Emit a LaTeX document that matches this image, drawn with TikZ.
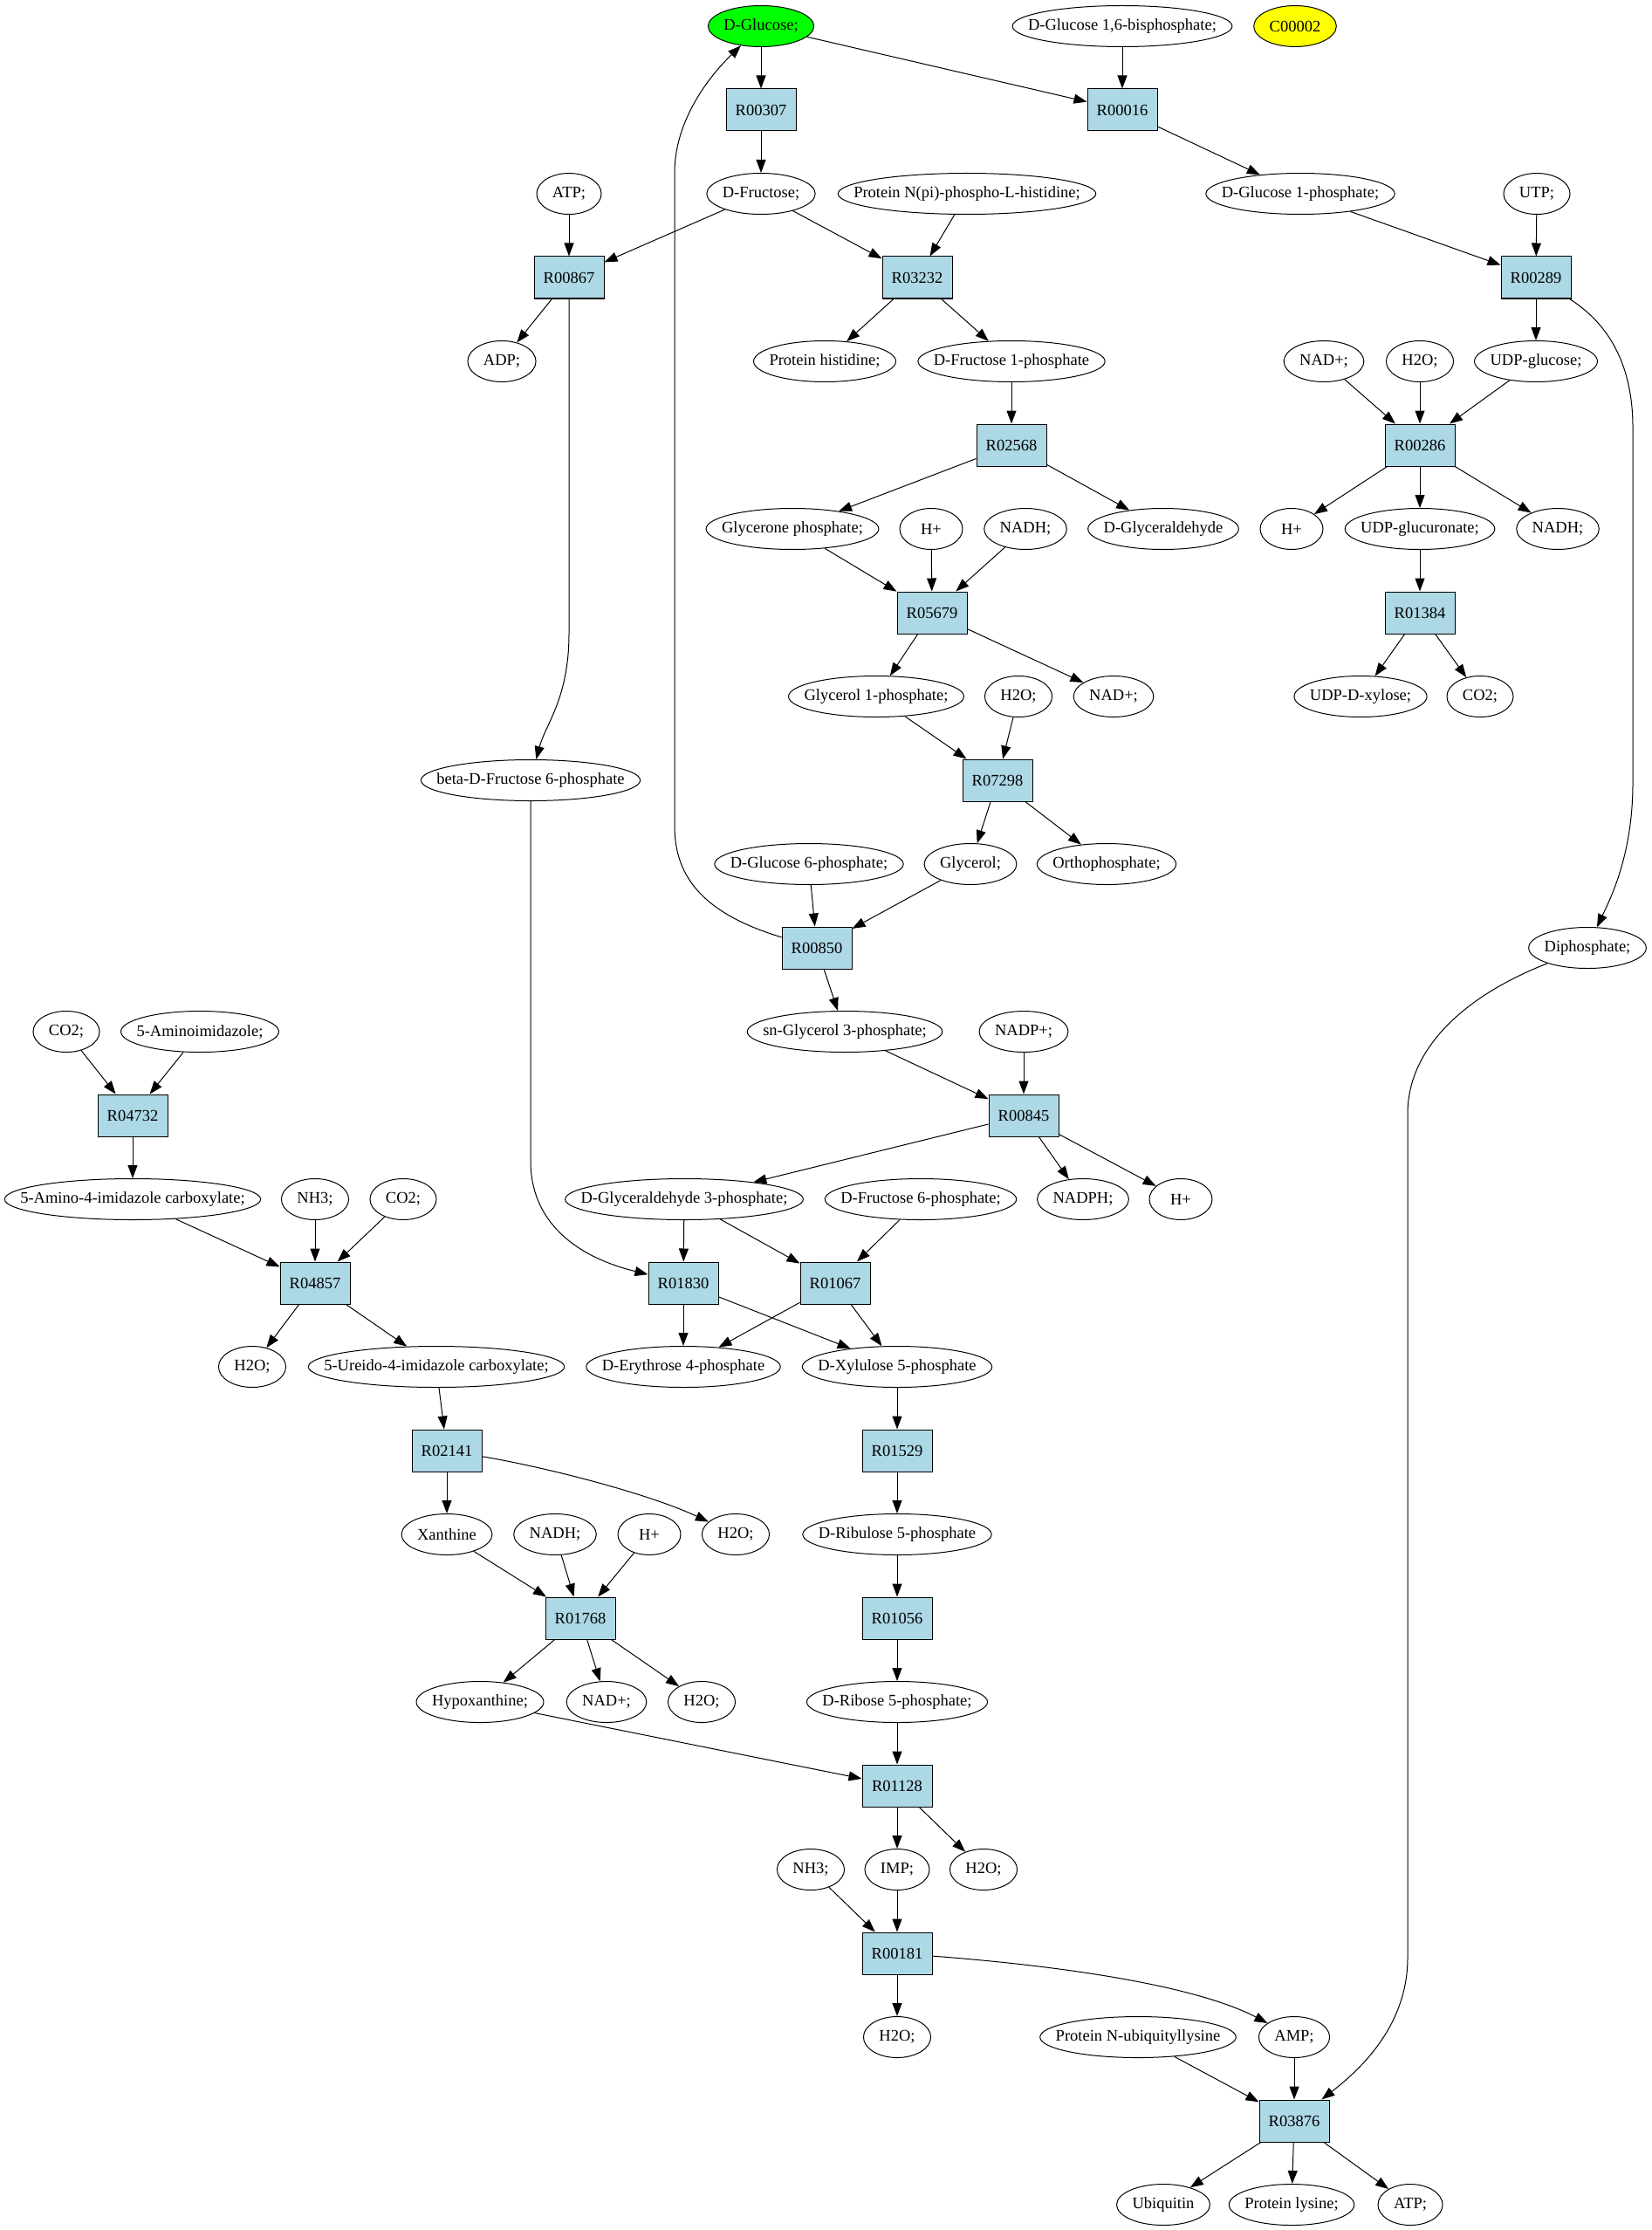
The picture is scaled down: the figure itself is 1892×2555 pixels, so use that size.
\documentclass[tikz,border=0pt]{standalone}
\usepackage{fontspec}
\setmainfont{Liberation Serif}
\usetikzlibrary{arrows.meta,shapes.geometric,calc}
\definecolor{lblue}{RGB}{173,216,230}
\definecolor{gfill}{RGB}{0,255,0}
\definecolor{yfill}{RGB}{255,255,0}
\newcommand\nodefnt{\fontsize{18.5}{22}\selectfont}
\newcommand\enode[4][]{%
  \node[inner sep=0pt,outer sep=0pt] (#2-m) at (#3) {\phantom{#4}};
  \path let \p1=($(#2-m.east)-(#2-m.west)$) in
    node[ell,minimum width={max(72pt,\x1+36pt)},#1] (#2) at (#3) {#4};}
\newcommand\rnode[2]{\node[rbox] (#1) at (#2) {#1};}
\begin{document}
\begin{tikzpicture}[x=1pt,y=-1pt,
  every node/.style={font=\nodefnt},
  ell/.style={ellipse,draw,line width=1pt,inner xsep=-400pt,inner ysep=-100pt,minimum height=47pt},
  rbox/.style={rectangle,draw,fill=lblue,line width=1pt,minimum width=80pt,minimum height=48pt,inner sep=0pt},
  e/.style={line width=1pt,-{Triangle[length=15pt,width=11pt]}}]
\useasboundingbox (0,0) rectangle (1892,2555);
% rank 0
\enode[fill=gfill]{glc}{872,30}{D-Glucose;}
\enode{gbp}{1286,30}{D-Glucose 1,6-bisphosphate;}
\enode[fill=yfill]{cpd}{1484,30}{C00002}
% rank 1
\rnode{R00307}{872,126}
\rnode{R00016}{1286,126}
% rank 2
\enode{atpa}{652,222}{ATP;}
\enode{fru}{872,222}{D-Fructose;}
\enode{pnph}{1108,222}{Protein N(pi)-phospho-L-histidine;}
\enode{gip}{1490,222}{D-Glucose 1-phosphate;}
\enode{utp}{1761,222}{UTP;}
% rank 3
\rnode{R00867}{652,318}
\rnode{R03232}{1051,318}
\rnode{R00289}{1760,318}
% rank 4
\enode{adp}{575,414}{ADP;}
\enode{phis}{945,414}{Protein histidine;}
\enode{fip}{1159,414}{D-Fructose 1-phosphate}
\enode{nadpa}{1517,414}{NAD+;}
\enode{wa}{1627,414}{H2O;}
\enode{udpg}{1760,414}{UDP-glucose;}
% rank 5
\rnode{R02568}{1159,510}
\rnode{R00286}{1627,510}
% rank 6
\enode{glyp}{908,606}{Glycerone phosphate;}
\enode{hpa}{1067,606}{H+}
\enode{nadha}{1175,606}{NADH;}
\enode{dgly}{1333,606}{D-Glyceraldehyde}
\enode{hpb}{1480,606}{H+}
\enode{udpgu}{1627,606}{UDP-glucuronate;}
\enode{nadhb}{1785,606}{NADH;}
% rank 7
\rnode{R05679}{1068,702}
\rnode{R01384}{1627,702}
% rank 8
\enode{glyop}{1004,798}{Glycerol 1-phosphate;}
\enode{wb}{1167,798}{H2O;}
\enode{nadpb}{1276,798}{NAD+;}
\enode{udpx}{1559,798}{UDP-D-xylose;}
\enode{coa}{1696,798}{CO2;}
% rank 9
\enode{bfsp}{608,894}{beta-D-Fructose 6-phosphate}
\rnode{R07298}{1143,894}
% rank 10
\enode{gsp}{927,990}{D-Glucose 6-phosphate;}
\enode{glyc}{1112,990}{Glycerol;}
\enode{orth}{1268,990}{Orthophosphate;}
% rank 11
\rnode{R00850}{936,1086}
\enode{diph}{1819,1086}{Diphosphate;}
% rank 12
\enode{cob}{76,1182}{CO2;}
\enode{aimid}{229,1182}{5-Aminoimidazole;}
\enode{sngp}{968,1182}{sn-Glycerol 3-phosphate;}
\enode{nadpp}{1173,1182}{NADP+;}
% rank 13
\rnode{R04732}{152,1278}
\rnode{R00845}{1173,1278}
% rank 14
\enode{aic}{152,1374}{5-Amino-4-imidazole carboxylate;}
\enode{nha}{361,1374}{NH3;}
\enode{coc}{462,1374}{CO2;}
\enode{gatp}{784,1374}{D-Glyceraldehyde 3-phosphate;}
\enode{fsp}{1055,1374}{D-Fructose 6-phosphate;}
\enode{nadph}{1241,1374}{NADPH;}
\enode{hpc}{1353,1374}{H+}
% rank 15
\rnode{R04857}{361,1470}
\rnode{R01830}{783,1470}
\rnode{R01067}{957,1470}
% rank 16
\enode{wc}{289,1566}{H2O;}
\enode{uic}{500,1566}{5-Ureido-4-imidazole carboxylate;}
\enode{efp}{783,1566}{D-Erythrose 4-phosphate}
\enode{xufp}{1028,1566}{D-Xylulose 5-phosphate}
% rank 17
\rnode{R02141}{512,1662}
\rnode{R01529}{1028,1662}
% rank 18
\enode{xan}{512,1758}{Xanthine}
\enode{nadhc}{636,1758}{NADH;}
\enode{hpd}{744,1758}{H+}
\enode{wd}{843,1758}{H2O;}
\enode{rufp}{1028,1758}{D-Ribulose 5-phosphate}
% rank 19
\rnode{R01768}{665,1854}
\rnode{R01056}{1028,1854}
% rank 20
\enode{hypx}{550,1950}{Hypoxanthine;}
\enode{nadpc}{695,1950}{NAD+;}
\enode{we}{804,1950}{H2O;}
\enode{rfp}{1028,1950}{D-Ribose 5-phosphate;}
% rank 21
\rnode{R01128}{1028,2046}
% rank 22
\enode{nhb}{929,2142}{NH3;}
\enode{imp}{1028,2142}{IMP;}
\enode{wf}{1127,2142}{H2O;}
% rank 23
\rnode{R00181}{1028,2238}
% rank 24
\enode{wg}{1028,2334}{H2O;}
\enode{pnub}{1304,2334}{Protein N-ubiquityllysine}
\enode{amp}{1483,2334}{AMP;}
% rank 25
\rnode{R03876}{1483,2430}
% rank 26
\enode{ubq}{1333,2526}{Ubiquitin}
\enode{plys}{1480,2526}{Protein lysine;}
\enode{atpb}{1616,2526}{ATP;}
% straight edges
\foreach \a/\b in {glc/R00307, glc/R00016, gbp/R00016, R00307/fru, R00016/gip,
  fru/R00867, atpa/R00867, fru/R03232, pnph/R03232, gip/R00289, utp/R00289,
  R00867/adp, R03232/phis, R03232/fip, R00289/udpg, fip/R02568,
  nadpa/R00286, wa/R00286, udpg/R00286, R02568/glyp, R02568/dgly,
  R00286/hpb, R00286/udpgu, R00286/nadhb, glyp/R05679, hpa/R05679, nadha/R05679,
  udpgu/R01384, R05679/glyop, R05679/nadpb, R01384/udpx, R01384/coa,
  glyop/R07298, wb/R07298, R07298/glyc, R07298/orth, gsp/R00850, glyc/R00850,
  R00850/sngp, sngp/R00845, nadpp/R00845, cob/R04732, aimid/R04732, R04732/aic,
  R00845/gatp, R00845/nadph, R00845/hpc, aic/R04857, nha/R04857, coc/R04857,
  gatp/R01830, gatp/R01067, fsp/R01067, R04857/wc, R04857/uic,
  R01830/efp, R01830/xufp, R01067/efp, R01067/xufp, uic/R02141, xufp/R01529,
  R02141/xan, R01529/rufp, xan/R01768, nadhc/R01768, hpd/R01768, rufp/R01056,
  R01768/hypx, R01768/nadpc, R01768/we, R01056/rfp, rfp/R01128, hypx/R01128,
  R01128/imp, R01128/wf, nhb/R00181, imp/R00181, R00181/wg,
  pnub/R03876, amp/R03876, R03876/ubq, R03876/plys, R03876/atpb}
  {\draw[e] (\a) -- (\b);}
% curved edges
\draw[e] (R00850) .. controls (800,1045) and (773,1000) .. (773,946) -- (773,198)
  .. controls (773,140) and (810,90) .. (glc);
\draw[e] (R00867) -- (652,726) .. controls (652,800) and (625,830) .. (bfsp);
\draw[e] (bfsp) -- (608,1330) .. controls (608,1400) and (660,1440) .. (R01830);
\draw[e] (R00289) .. controls (1845,372) and (1871,420) .. (1871,490) -- (1871,897)
  .. controls (1871,980) and (1845,1030) .. (diph);
\draw[e] (diph) .. controls (1680,1140) and (1613,1200) .. (1613,1276) -- (1613,2243)
  .. controls (1613,2320) and (1560,2370) .. (R03876);
\draw[e] (R00181) .. controls (1250,2255) and (1380,2280) .. (amp);
\draw[e] (R02141) .. controls (620,1680) and (740,1710) .. (wd);
\end{tikzpicture}
\end{document}
